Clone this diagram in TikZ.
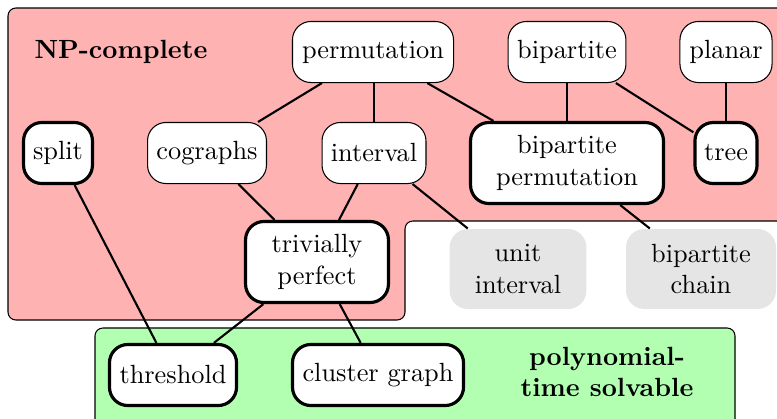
\documentclass[tikz,border=0pt]{standalone}
\begin{document}
\begin{tikzpicture}[x=0.38pt,y=-0.38pt,
  cls/.style={draw=black,line width=0.4pt,fill=white,rounded corners=7pt,align=center,inner sep=0pt,minimum height=23.2pt},
  thk/.style={line width=1.2pt},
  gry/.style={fill=black!10,rounded corners=7pt,align=center,inner sep=0pt,minimum height=30.4pt},
  edge/.style={line width=0.8pt}]
\useasboundingbox (0,0) rectangle (777,418);
\clip (0,0) rectangle (777,418);
\draw[fill=red!30,line width=0.4pt,rounded corners=3pt] (8,8) -- (800,8) -- (800,221) -- (405,221) -- (405,320) -- (8,320) -- cycle;
\draw[fill=green!30,line width=0.4pt,rounded corners=3pt] (95,328) rectangle (735,440);
\node[font=\bfseries] (np) at (121,52) {NP-complete};
\node[font=\bfseries,align=center] (poly) at (607,372) {polynomial-\\time solvable};
\node[cls,minimum width=61.2pt] (perm) at (373,52) {permutation};
\node[cls,minimum width=44.8pt] (bip) at (567,52) {bipartite};
\node[cls,minimum width=35pt] (plan) at (726,52) {planar};
\node[cls,thk,minimum width=26.2pt] (split) at (58,153) {split};
\node[cls,minimum width=45.2pt] (cog) at (207,153) {cographs};
\node[cls,minimum width=39.5pt] (int) at (374,153) {interval};
\node[cls,thk,minimum width=73.3pt,minimum height=30.8pt] (bperm) at (567,163) {bipartite\\permutation};
\node[cls,thk,minimum width=23.6pt] (tree) at (726,153) {tree};
\node[cls,thk,minimum width=54.3pt,minimum height=30.8pt] (triv) at (317,262) {trivially\\perfect};
\node[gry,minimum width=52pt] (uint) at (518,269) {unit\\interval};
\node[gry,minimum width=57pt] (bchain) at (701,269) {bipartite\\chain};
\node[cls,thk,minimum width=48.3pt] (thr) at (173,375) {threshold};
\node[cls,thk,minimum width=65pt] (clu) at (378,375) {cluster graph};
\draw[edge] (perm) -- (cog);
\draw[edge] (perm.south -| int.north) -- (int.north);
\draw[edge] (perm) -- (bperm);
\draw[edge] (bip) -- (bperm);
\draw[edge] (bip) -- (tree);
\draw[edge] (plan) -- (tree);
\draw[edge] (split) -- (thr);
\draw[edge] (cog) -- (triv);
\draw[edge] (int) -- (triv);
\draw[edge] (int) -- (uint);
\draw[edge] (bperm) -- (bchain);
\draw[edge] (triv) -- (thr);
\draw[edge] (triv) -- (clu);
\end{tikzpicture}
\end{document}
